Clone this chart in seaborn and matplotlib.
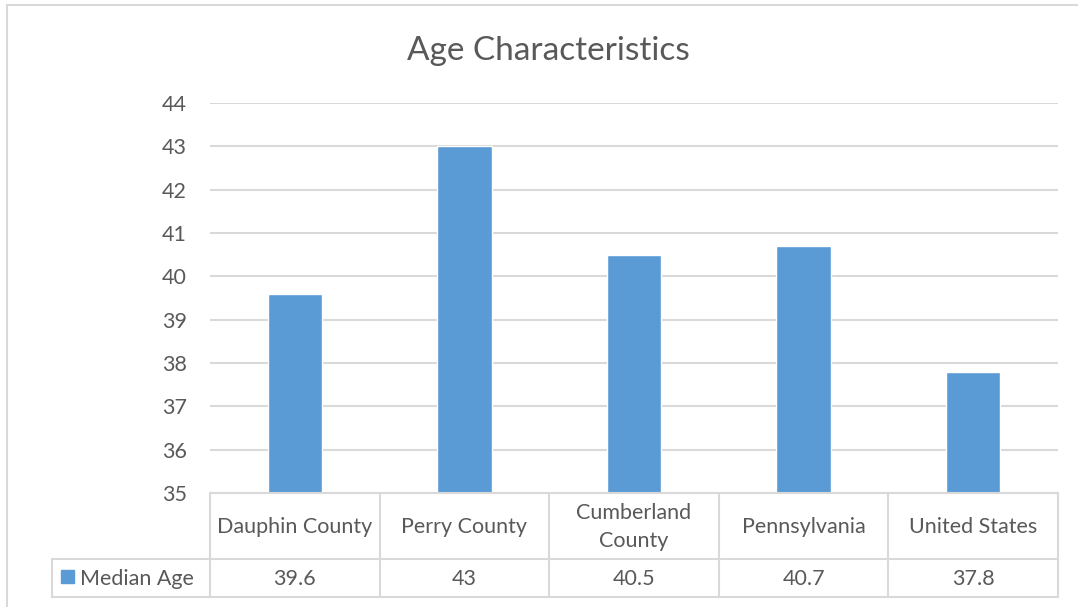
import matplotlib
matplotlib.use("Agg")
import matplotlib.pyplot as plt
import seaborn as sns
import pandas as pd
from matplotlib.lines import Line2D
from matplotlib.patches import Rectangle
import matplotlib.transforms as mtransforms

categories = ["Dauphin County", "Perry County", "Cumberland\nCounty", "Pennsylvania", "United States"]
median_age = [39.6, 43, 40.5, 40.7, 37.8]
value_labels = ["39.6", "43", "40.5", "40.7", "37.8"]
series_name = "Median Age"
title = "Age Characteristics"
yticks = [35, 36, 37, 38, 39, 40, 41, 42, 43, 44]

sns.set_theme(style="white")
plt.rcParams["font.family"] = ["Lato", "DejaVu Sans"]

BAR = "#5B9BD5"
GRID = "#D9D9D9"
TXT = "#595959"
FS = 15.5

W, H = 1078, 607
fig = plt.figure(figsize=(W / 100, H / 100), dpi=100)
fig.patch.set_facecolor("white")

def fx(px):
    return px / W

def fy(py):
    return 1 - py / H

ax_l, ax_r, ax_t, ax_b = 210, 1058, 103, 493
ax = fig.add_axes([fx(ax_l), fy(ax_b), fx(ax_r) - fx(ax_l), fy(ax_t) - fy(ax_b)])

df = pd.DataFrame({"cat": categories, "val": median_age})
sns.barplot(data=df, x="cat", y="val", color=BAR, width=0.32, saturation=1, ax=ax)
ax.set_ylim(35, 44)
ax.set_xlim(-0.5, len(categories) - 0.5)
ax.set_yticks(yticks)
ax.set_yticklabels([str(t) for t in yticks], fontsize=FS, color=TXT)
ax.tick_params(axis="y", length=0, pad=16.5)
ax.set_xticks([])
ax.set_xlabel("")
ax.set_ylabel("")
for s in ax.spines.values():
    s.set_visible(False)
ax.yaxis.grid(True, color=GRID, linewidth=1.5)
ax.set_axisbelow(True)

# title
fig.text(fx(548), fy(51), title, ha="center", va="center", fontsize=24, color=TXT)

# data table
tr = fig.transFigure
def hline(x0, x1, y):
    fig.add_artist(Line2D([fx(x0), fx(x1)], [fy(y), fy(y)], color=GRID, lw=1.5, transform=tr))
def vline(x, y0, y1):
    fig.add_artist(Line2D([fx(x), fx(x)], [fy(y0), fy(y1)], color=GRID, lw=1.5, transform=tr))

row1_b, row2_b = 559, 597
left_cell = 52
hline(ax_l, ax_r, ax_b)
hline(left_cell, ax_r, row1_b)
hline(left_cell, ax_r, row2_b)
vline(left_cell, row1_b, row2_b)
blend = mtransforms.blended_transform_factory(ax.transData, fig.transFigure)
for i in range(len(categories) + 1):
    xb = i - 0.5
    ax_x = ax.transData.transform((xb, 0))[0]
    vline(ax_x, ax_b, row2_b)

for i, (c, v) in enumerate(zip(categories, value_labels)):
    fig.text(i, fy((ax_b + row1_b) / 2 + 1), c, transform=blend, ha="center", va="center",
             fontsize=FS, color=TXT, linespacing=1.5)
    fig.text(i, fy((row1_b + row2_b) / 2 + 1), v, transform=blend, ha="center", va="center",
             fontsize=FS, color=TXT)

# legend key in table
fig.add_artist(Rectangle((fx(61), fy(583)), fx(13), fy(570) - fy(583), color=BAR, transform=tr))
fig.text(fx(80), fy((row1_b + row2_b) / 2 + 1), series_name, ha="left", va="center", fontsize=FS, color=TXT)

# chart border
fig.add_artist(Line2D([fx(7), fx(7)], [fy(5), 0], color=GRID, lw=1.5, transform=tr))
fig.add_artist(Line2D([fx(7), 1], [fy(5), fy(5)], color=GRID, lw=1.5, transform=tr))

fig.savefig("out.png", dpi=100, facecolor="white")
